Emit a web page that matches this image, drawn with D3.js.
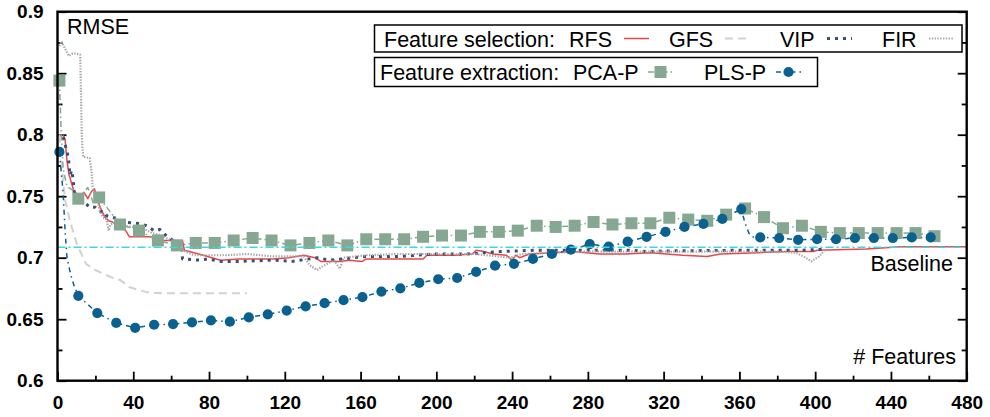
<!DOCTYPE html>
<html><head><meta charset="utf-8">
<script src="https://cdn.jsdelivr.net/npm/d3@7"></script>
<style>
html,body{margin:0;padding:0;background:#fff;}
svg{display:block;font-family:"Liberation Sans",Arimo,Helvetica,Arial,sans-serif;}
</style></head><body>
<svg id="chart" width="990" height="417"></svg>
<script>
// Axis ticks
const xTicks = [0, 40, 80, 120, 160, 200, 240, 280, 320, 360, 400, 440, 480];
const xMinorTicks = [20, 60, 100, 140, 180, 220, 260, 300, 340, 380, 420, 460];
const yTicks = [0.6, 0.65, 0.7, 0.75, 0.8, 0.85, 0.9];
const yTickLabels = ["0.6", "0.65", "0.7", "0.75", "0.8", "0.85", "0.9"];
const yMinorTicks = [0.625, 0.675, 0.725, 0.775, 0.825, 0.875];

// Reference RMSE using all features
const baselineRMSE = 0.7085;

// Feature selection curves: [number of features, RMSE]
const rfs = [[3,0.800],[4,0.796],[5,0.779],[6,0.768],[7.5,0.760],[8.5,0.755],[10,0.752],[12,0.750],[14,0.753],[16,0.748],[18,0.754],[19.5,0.756],[21,0.748],[22.5,0.741],[25,0.733],[27,0.730],[29,0.729],[33,0.725],[36,0.722],[38,0.717],[45,0.717],[49,0.717],[54,0.714],[60,0.714],[66,0.714],[67,0.706],[72,0.704],[77,0.702],[86,0.698],[96,0.699],[105,0.699],[114,0.699],[122,0.700],[130,0.702],[136,0.700],[139,0.697],[149,0.697],[154,0.698],[161,0.697],[163,0.699],[180,0.699],[193,0.699],[195,0.702],[210,0.702],[219,0.703],[221,0.706],[225,0.705],[230,0.703],[237,0.702],[240,0.698],[242,0.702],[244,0.700],[249,0.703],[262,0.704],[272,0.705],[286,0.703],[300,0.703],[313,0.704],[330,0.702],[343,0.701],[350,0.703],[370,0.704],[385,0.705],[399,0.705],[401,0.706],[427,0.707],[445,0.709],[462,0.709],[480,0.709]];
const gfs = [[1,0.800],[2,0.780],[3,0.762],[4,0.747],[6.6,0.730],[10,0.712],[15,0.695],[20,0.690],[24,0.687],[30,0.683],[33,0.682],[38,0.676],[47,0.672],[55,0.671],[61,0.671],[80,0.671],[100,0.671]];
const vip = [[3,0.798],[5.7,0.782],[6.6,0.767],[7.5,0.771],[8.3,0.763],[9.2,0.745],[11,0.745],[15,0.744],[17,0.741],[20,0.741],[22,0.738],[25,0.737],[26,0.734],[31,0.732],[35,0.729],[42,0.728],[47,0.726],[51,0.722],[54,0.723],[58,0.717],[61,0.714],[65.5,0.710],[66,0.699],[75,0.698],[79,0.699],[86,0.697],[96,0.697],[114,0.698],[124,0.697],[137,0.700],[144,0.698],[150,0.699],[163,0.701],[181,0.701],[198,0.703],[216,0.703],[234,0.705],[251,0.706],[269,0.706],[286,0.706],[304,0.706],[311,0.705],[322,0.7055],[357,0.706],[392,0.706],[405,0.707]];
const fir = [[1,0.872],[2,0.876],[4,0.870],[6,0.864],[8,0.866],[10,0.866],[12,0.865],[12.8,0.800],[13.5,0.782],[17,0.781],[18,0.770],[18.5,0.758],[19.5,0.752],[21.5,0.744],[22.5,0.737],[24,0.733],[26,0.731],[27,0.722],[28,0.727],[31,0.729],[35,0.726],[40,0.725],[45,0.724],[50,0.720],[55,0.718],[60,0.714],[66,0.706],[72,0.702],[80,0.702],[89,0.702],[100,0.703],[114,0.701],[130,0.701],[133,0.694],[137,0.690],[140,0.693],[146,0.698],[149,0.691],[151,0.700],[163,0.702],[180,0.703],[200,0.703],[220,0.703],[239,0.700],[245,0.703],[260,0.704],[280,0.705],[300,0.705],[320,0.705],[340,0.705],[360,0.705],[380,0.705],[390,0.704],[395,0.700],[398,0.697],[402,0.701],[405,0.706]];

// Feature extraction: marked components and RMSE
const pcaX = [1,11,22,33,43,53,63,73,83,93,103,113,123,133,143,153,163,173,183,193,203,213,223,233,243,253,263,273,283,293,303,313,323,333,343,353,363,373,383,393,403,413,423,433,443,453,463];
const pcaY = [0.844,0.748,0.749,0.727,0.722,0.714,0.710,0.712,0.712,0.714,0.716,0.714,0.710,0.712,0.714,0.710,0.715,0.715,0.715,0.717,0.718,0.718,0.721,0.721,0.722,0.726,0.725,0.726,0.729,0.727,0.728,0.728,0.7325,0.731,0.730,0.735,0.740,0.733,0.724,0.726,0.721,0.720,0.720,0.720,0.720,0.720,0.7175];
const pcaBetween = [[2,0.800],[3,0.772],[5,0.758],[8,0.755],[16,0.757],[19,0.744]];

const plsX = [1,11,21,31,41,51,61,71,81,91,101,111,121,131,141,151,161,171,181,191,201,211,221,231,241,251,261,271,281,291,301,311,321,331,341,351,361,371,381,391,401,411,421,431,441,451,461];
const plsY = [0.786,0.669,0.655,0.647,0.643,0.6455,0.646,0.6475,0.649,0.648,0.6515,0.654,0.657,0.6605,0.663,0.6655,0.668,0.6725,0.675,0.6795,0.6825,0.6835,0.6885,0.6935,0.695,0.699,0.703,0.7065,0.711,0.709,0.713,0.717,0.721,0.725,0.7275,0.7315,0.7395,0.7165,0.716,0.7145,0.715,0.715,0.716,0.716,0.716,0.7165,0.7165];
const plsBetween = [[3,0.752],[4,0.722],[5,0.700],[7,0.686],[9,0.676],[363,0.728],[365,0.720],[367,0.717]];

const selectionNames = ["RFS", "GFS", "VIP", "FIR"];
const extractionNames = ["PCA-P", "PLS-P"];

const colors = {RFS:"#e5474b", GFS:"#d2d2d2", VIP:"#3b4e78", FIR:"#a8a8a8", "PCA-P":"#86a893", "PLS-P":"#0a6190", base:"#3ad8e2"};
const styles = {
  RFS:{w:1.5, dash:null},
  GFS:{w:2, dash:"8,5"},
  VIP:{w:3, dash:"3,5"},
  FIR:{w:2.2, dash:"1.4,1.4"},
  "PCA-P":{w:1.5, dash:"6,3,1.5,3"},
  "PLS-P":{w:1.5, dash:"5,4,1.5,4"}
};

const svg = d3.select("#chart");
svg.append("rect").attr("width", 990).attr("height", 417).attr("fill", "#fff");

const L = 57.5, R = 966.7, T = 11.7, B = 380.7;
const x = d3.scaleLinear().domain([0, 480]).range([L, R]);
const y = d3.scaleLinear().domain([0.6, 0.9]).range([B, T]);

const tickFont = g => g.attr("font-family", null).attr("font-size", null);

// Bottom axis (ticks point inward)
svg.append("g").attr("transform", `translate(0,${B})`)
  .call(d3.axisBottom(x).tickValues(xTicks).tickSize(-9).tickPadding(15).tickFormat(d3.format("d")))
  .call(tickFont)
  .call(g => g.select(".domain").remove())
  .call(g => g.selectAll("line").attr("stroke", "#000").attr("stroke-width", 1.8))
  .call(g => g.selectAll("text").attr("font-size", 19).attr("font-weight", "bold").attr("fill", "#000"));
svg.append("g").attr("transform", `translate(0,${B})`)
  .call(d3.axisBottom(x).tickValues(xMinorTicks).tickSize(-5).tickFormat(""))
  .call(g => g.select(".domain").remove())
  .call(g => g.selectAll("line").attr("stroke", "#000").attr("stroke-width", 1.8));

// Left axis
svg.append("g").attr("transform", `translate(${L},0)`)
  .call(d3.axisLeft(y).tickValues(yTicks).tickSize(-9).tickPadding(14).tickFormat((d, i) => yTickLabels[i]))
  .call(tickFont)
  .call(g => g.select(".domain").remove())
  .call(g => g.selectAll("line").attr("stroke", "#000").attr("stroke-width", 1.8))
  .call(g => g.selectAll("text").attr("font-size", 19).attr("font-weight", "bold").attr("fill", "#000"));
svg.append("g").attr("transform", `translate(${L},0)`)
  .call(d3.axisLeft(y).tickValues(yMinorTicks).tickSize(-5).tickFormat(""))
  .call(g => g.select(".domain").remove())
  .call(g => g.selectAll("line").attr("stroke", "#000").attr("stroke-width", 1.8));

// Right axis (mirrored ticks, no labels)
svg.append("g").attr("transform", `translate(${R},0)`)
  .call(d3.axisRight(y).tickValues(yTicks).tickSize(-9).tickFormat(""))
  .call(g => g.select(".domain").remove())
  .call(g => g.selectAll("line").attr("stroke", "#000").attr("stroke-width", 1.8));
svg.append("g").attr("transform", `translate(${R},0)`)
  .call(d3.axisRight(y).tickValues(yMinorTicks).tickSize(-5).tickFormat(""))
  .call(g => g.select(".domain").remove())
  .call(g => g.selectAll("line").attr("stroke", "#000").attr("stroke-width", 1.8));

const line = d3.line().x(d => x(d[0])).y(d => y(d[1]));
const plot = svg.append("g");

function drawCurve(data, name) {
  const s = styles[name];
  plot.append("path").datum(data)
    .attr("d", line).attr("fill", "none")
    .attr("stroke", colors[name]).attr("stroke-width", s.w)
    .attr("stroke-dasharray", s.dash)
    .attr("stroke-linejoin", "round");
}

drawCurve(rfs, "RFS");
drawCurve(gfs, "GFS");
drawCurve(vip, "VIP");
drawCurve(fir, "FIR");

const pcaPts = pcaX.map((v, i) => [v, pcaY[i]]);
const plsPts = plsX.map((v, i) => [v, plsY[i]]);
drawCurve(pcaPts.concat(pcaBetween).sort((a, b) => a[0] - b[0]), "PCA-P");
drawCurve(plsPts.concat(plsBetween).sort((a, b) => a[0] - b[0]), "PLS-P");

const sq = 12, cr = 5.1;
plot.selectAll("rect.pca").data(pcaPts).join("rect").attr("class", "pca")
  .attr("x", d => x(d[0]) - sq / 2).attr("y", d => y(d[1]) - sq / 2)
  .attr("width", sq).attr("height", sq).attr("fill", colors["PCA-P"]);
plot.selectAll("circle.pls").data(plsPts).join("circle").attr("class", "pls")
  .attr("cx", d => x(d[0])).attr("cy", d => y(d[1])).attr("r", cr)
  .attr("fill", colors["PLS-P"]);

// Baseline
plot.append("line").attr("x1", L).attr("x2", R)
  .attr("y1", y(baselineRMSE)).attr("y2", y(baselineRMSE))
  .attr("stroke", colors.base).attr("stroke-width", 1.5).attr("stroke-dasharray", "8,3,2,3");

// Frame
svg.append("rect").attr("x", L).attr("y", T).attr("width", R - L).attr("height", B - T)
  .attr("fill", "none").attr("stroke", "#000").attr("stroke-width", 2.4);

// Labels
svg.append("text").attr("x", 67).attr("y", 34).attr("font-size", 21.5).text("RMSE");
svg.append("text").attr("x", 953).attr("y", 271).attr("font-size", 21.5).attr("text-anchor", "end").text("Baseline");
svg.append("text").attr("x", 956).attr("y", 364).attr("font-size", 21.5).attr("text-anchor", "end").text("# Features");

// Legends
const lg = svg.append("g").attr("font-size", 21.5);
lg.append("rect").attr("x", 374.5).attr("y", 25).attr("width", 587.5).attr("height", 27)
  .attr("fill", "#fff").attr("stroke", "#000").attr("stroke-width", 1.5);
lg.append("text").attr("x", 384).attr("y", 46.5).text("Feature selection:");
const selPos = [{t:569, s:624}, {t:669, s:725}, {t:780, s:827}, {t:882, s:929}];
selectionNames.forEach((n, i) => {
  const p = selPos[i];
  lg.append("text").attr("x", p.t).attr("y", 46.5).text(n);
  lg.append("line").attr("x1", p.s).attr("x2", p.s + 25).attr("y1", 38.5).attr("y2", 38.5)
    .attr("stroke", colors[n]).attr("stroke-width", styles[n].w).attr("stroke-dasharray", styles[n].dash);
});

lg.append("rect").attr("x", 374.5).attr("y", 57.5).attr("width", 443).attr("height", 29)
  .attr("fill", "#fff").attr("stroke", "#000").attr("stroke-width", 1.5);
lg.append("text").attr("x", 380).attr("y", 79.5).text("Feature extraction:");
const extPos = [{t:573, s:648}, {t:704, s:776}];
extractionNames.forEach((n, i) => {
  const p = extPos[i];
  lg.append("text").attr("x", p.t).attr("y", 79.5).text(n);
  lg.append("line").attr("x1", p.s).attr("x2", p.s + 25).attr("y1", 72).attr("y2", 72)
    .attr("stroke", colors[n]).attr("stroke-width", styles[n].w).attr("stroke-dasharray", styles[n].dash);
  if (n === "PCA-P") {
    lg.append("rect").attr("x", p.s + 12.5 - sq / 2).attr("y", 72 - sq / 2).attr("width", sq).attr("height", sq).attr("fill", colors[n]);
  } else {
    lg.append("circle").attr("cx", p.s + 12.5).attr("cy", 72).attr("r", cr).attr("fill", colors[n]);
  }
});
</script>
</body></html>
